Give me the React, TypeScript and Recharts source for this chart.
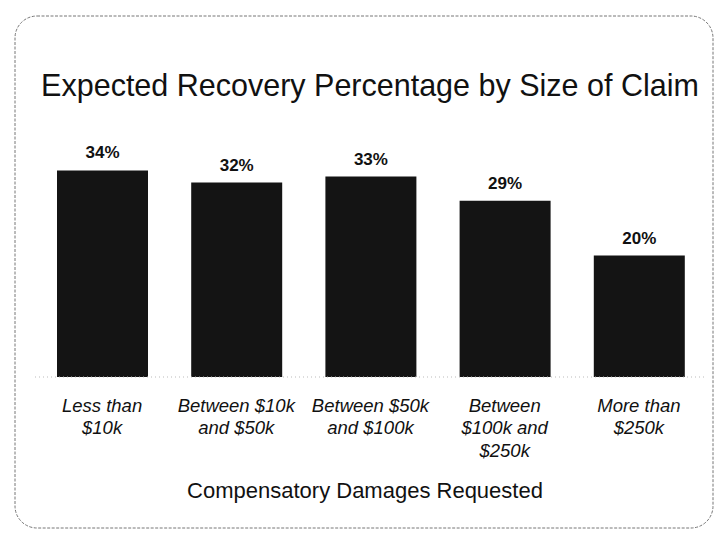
import { BarChart, Bar, XAxis, YAxis, LabelList } from 'recharts';

const categories = [
  'Less than\n$10k',
  'Between $10k\nand $50k',
  'Between $50k\nand $100k',
  'Between\n$100k and\n$250k',
  'More than\n$250k',
];
const recovery = [34, 32, 33, 29, 20];

const chartData = categories.map((name, i) => ({ name, value: recovery[i] }));

const font = '"Liberation Sans", Arial, sans-serif';

function CategoryTick({ x, y, payload }: any) {
  const lines = String(payload.value).split('\n');
  return (
    <text x={x} y={y} textAnchor="middle" fontFamily={font} fontStyle="italic" fontSize={18.5} fill="#111">
      {lines.map((line, i) => (
        <tspan key={i} x={x} dy={i === 0 ? 26.5 : 22.5}>
          {line}
        </tspan>
      ))}
    </text>
  );
}

export default function App() {
  return (
    <div style={{ position: 'absolute', left: 0, top: 0, width: 717, height: 546, background: '#fff' }}>
      <svg width={717} height={546} style={{ position: 'absolute', left: 0, top: 0 }}>
        <rect x={15} y={16} width={698} height={512} rx={22} fill="none" stroke="#777" strokeWidth={1} strokeDasharray="3 1.5" />
        <text x={370} y={96} textAnchor="middle" fontFamily={font} fontSize={30.5} fill="#111">
          Expected Recovery Percentage by Size of Claim
        </text>
        <text x={365} y={498} textAnchor="middle" fontFamily={font} fontSize={22} fill="#111">
          Compensatory Damages Requested
        </text>
      </svg>
      <div style={{ position: 'absolute', left: 0, top: 0 }}>
        <BarChart width={717} height={546} data={chartData} margin={{ top: 134, right: 11, bottom: 49, left: 35 }}>
          <XAxis
            dataKey="name"
            interval={0}
            tickLine={false}
            axisLine={{ stroke: '#bbb', strokeDasharray: '1 3' }}
            tick={<CategoryTick />}
            height={120}
          />
          <YAxis hide domain={[0, 40]} />
          <Bar dataKey="value" fill="#141414" barSize={91} isAnimationActive={false}>
            <LabelList
              dataKey="value"
              position="top"
              offset={12}
              formatter={(v: number) => `${v}%`}
              style={{ fontFamily: font, fontWeight: 'bold', fontSize: 17, fill: '#111' }}
            />
          </Bar>
        </BarChart>
      </div>
    </div>
  );
}
